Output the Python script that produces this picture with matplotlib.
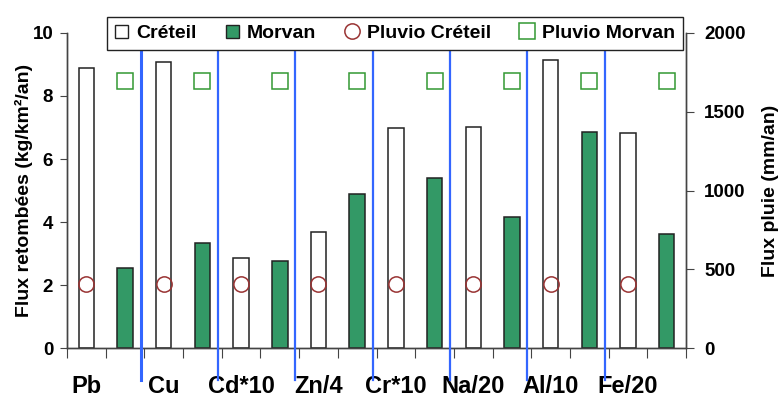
import numpy as np
import matplotlib
matplotlib.use('Agg')
import matplotlib.pyplot as plt
import matplotlib.transforms as mtransforms
from matplotlib.patches import Patch
from matplotlib.lines import Line2D

plt.rcParams['font.family'] = ['Liberation Sans', 'DejaVu Sans']
plt.rcParams['font.weight'] = 'bold'

# données
elements = ['Pb', 'Cu', 'Cd*10', 'Zn/4', 'Cr*10', 'Na/20', 'Al/10', 'Fe/20']
creteil = [8.89, 9.08, 2.86, 3.69, 6.98, 7.02, 9.14, 6.83]
morvan = [2.54, 3.34, 2.76, 4.89, 5.40, 4.17, 6.86, 3.61]
pluvio_creteil = [405, 405, 405, 405, 405, 405, 405, 405]
pluvio_morvan = [1695, 1695, 1695, 1695, 1695, 1695, 1695, 1695]

vert = '#339966'
bleu = '#3366ff'

fig = plt.figure(figsize=(7.82, 3.99), dpi=100)
ax = fig.add_axes([0.0857, 0.1278, 0.7916, 0.7895])
ax2 = ax.twinx()

n = len(elements)
x_cr = np.arange(n) * 2 + 0.5
x_mo = np.arange(n) * 2 + 1.5

ax.bar(x_cr, creteil, width=0.4, color='white', edgecolor='#222222', linewidth=1.1, zorder=2)
ax.bar(x_mo, morvan, width=0.4, color=vert, edgecolor='#222222', linewidth=1.1, zorder=2)

ax2.plot(x_cr, pluvio_creteil, linestyle='none', marker='o', markersize=11,
         markerfacecolor='none', markeredgecolor='#993333', markeredgewidth=1.1)
ax2.plot(x_mo, pluvio_morvan, linestyle='none', marker='s', markersize=11,
         markerfacecolor='none', markeredgecolor='#339933', markeredgewidth=1.1)

# séparateurs bleus entre les éléments
trans = mtransforms.blended_transform_factory(ax2.transData, ax2.transAxes)
for k in range(n - 1):
    xs = 2 * (k + 1) - 0.1
    ax2.plot([xs, xs], [-0.1, 0.946], color=bleu, linewidth=2.2 if k == 0 else 1.6,
             transform=trans, clip_on=False, zorder=3)

# noms des éléments
ttxt = mtransforms.blended_transform_factory(ax.transData, ax.transAxes)
for xc, nom in zip(x_cr, elements):
    ax.text(xc, -0.158, nom, transform=ttxt, ha='center', va='bottom',
            fontsize=17, fontweight='bold')

ax.set_xlim(0, 2 * n)
ax.set_ylim(0, 10)
ax2.set_ylim(0, 2000)
ax.set_xticks(np.arange(0, 2 * n + 1))
ax.set_xticklabels([])
ax.set_yticks([0, 2, 4, 6, 8, 10])
ax2.set_yticks([0, 500, 1000, 1500, 2000])

for a in (ax, ax2):
    a.spines['top'].set_visible(False)
    for s in a.spines.values():
        s.set_color('#444444')
        s.set_linewidth(1.0)

ax.tick_params(axis='x', direction='out', length=7, color='#444444')
ax.tick_params(axis='y', direction='out', length=5, pad=5, labelsize=13.5, color='#444444')
ax2.tick_params(axis='y', direction='out', length=6, pad=7, labelsize=13.5, color='#444444')

ax.set_ylabel('Flux retombées (kg/km²/an)', fontsize=14, fontweight='bold')
ax.yaxis.set_label_coords(-0.055, 0.5)
ax2.set_ylabel('Flux pluie (mm/an)', fontsize=14, fontweight='bold')
ax2.yaxis.set_label_coords(1.123, 0.5)

handles = [
    Patch(facecolor='white', edgecolor='#222222', linewidth=1.0),
    Patch(facecolor=vert, edgecolor='#222222', linewidth=1.0),
    Line2D([], [], linestyle='none', marker='o', markersize=11,
           markerfacecolor='none', markeredgecolor='#993333', markeredgewidth=1.1),
    Line2D([], [], linestyle='none', marker='s', markersize=11,
           markerfacecolor='none', markeredgecolor='#339933', markeredgewidth=1.1),
]
labels = ['Créteil', 'Morvan', 'Pluvio Créteil', 'Pluvio Morvan']
leg = ax2.legend(handles, labels, ncol=4, loc='lower left',
                 bbox_to_anchor=(0.0646, 0.946), borderaxespad=0,
                 prop={'size': 14, 'weight': 'bold'}, frameon=True, fancybox=False,
                 edgecolor='#222222', framealpha=1, handlelength=0.7, handleheight=0.7,
                 handletextpad=0.4, columnspacing=1.5, borderpad=0.4)
leg.get_frame().set_linewidth(1.0)
leg.set_zorder(5)

plt.savefig('out.png', dpi=100)
